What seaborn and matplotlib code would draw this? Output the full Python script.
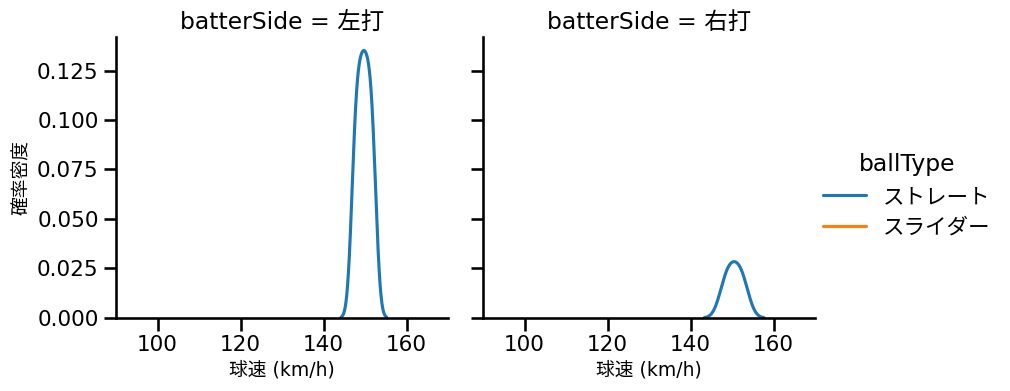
import warnings
import matplotlib
matplotlib.use("Agg")
import matplotlib.pyplot as plt
import numpy as np
import pandas as pd
import seaborn as sns

warnings.filterwarnings("ignore")

# --- data ---
batter_sides = ["左打", "右打"]
ball_types = ["ストレート", "スライダー"]
left_straight = [147.25, 147.55, 148.05, 148.55, 149.05, 149.5,
                 149.9, 150.35, 150.85, 151.35, 151.85, 152.15]
right_straight = [148.4, 150.5, 152.6]
left_slider = [130.0]

speeds = left_straight + right_straight + left_slider
sides = ([batter_sides[0]] * len(left_straight)
         + [batter_sides[1]] * len(right_straight)
         + [batter_sides[0]] * len(left_slider))
types = ([ball_types[0]] * len(left_straight)
         + [ball_types[0]] * len(right_straight)
         + [ball_types[1]] * len(left_slider))
df = pd.DataFrame({"球速": speeds, "batterSide": sides, "ballType": types})

black = {"text.color": "black", "axes.labelcolor": "black",
         "xtick.color": "black", "ytick.color": "black",
         "axes.edgecolor": "black"}
sns.set_theme(style="ticks", context="talk", font_scale=0.94,
              palette="tab10", rc=black)
plt.rcParams["font.family"] = ["DejaVu Sans", "Noto Sans CJK JP"]

g = sns.displot(data=df, x="球速", hue="ballType", col="batterSide",
                kind="kde", hue_order=ball_types, col_order=batter_sides,
                palette="tab10", facet_kws=dict(xlim=(90, 170)))
g.set_axis_labels("球速 (km/h)", "確率密度", fontsize=13.5)

fig = g.figure
fig.set_size_inches(10.1, 3.91)
fig.subplots_adjust(left=0.1149, right=0.807, top=0.905, bottom=0.187, wspace=0.105)
fig.savefig("out.png", dpi=100)
